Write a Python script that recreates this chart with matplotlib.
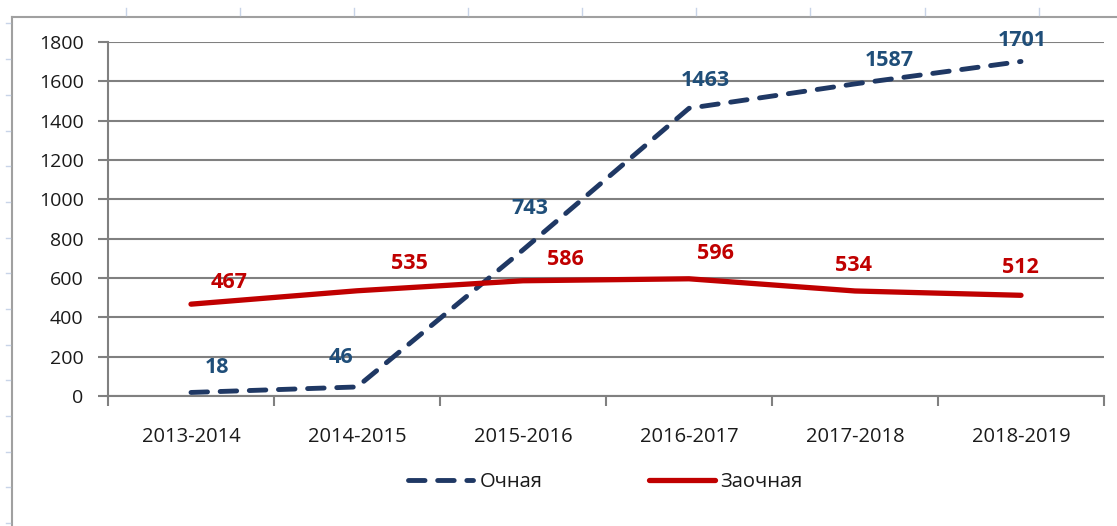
import matplotlib.pyplot as plt
from matplotlib.lines import Line2D

# data
years = ['2013-2014', '2014-2015', '2015-2016', '2016-2017', '2017-2018', '2018-2019']
ochnaya = [18, 46, 743, 1463, 1587, 1701]
zaochnaya = [467, 535, 586, 596, 534, 512]

# label offsets in pixels (dx, dy) as placed in the original
off_blue = [(26, 25), (-16, 29), (7, 41), (16, 28), (34, 23), (1, 21)]
off_red = [(38, 22), (52, 27), (42, 21), (26, 25), (-2, 25), (-1, 28)]

blue = '#1F3864'
red = '#C00000'
plt.rcParams['font.family'] = ['Open Sans', 'DejaVu Sans']

fig = plt.figure(figsize=(11.17, 5.26), dpi=100)
W, H = 1117, 526
ax = fig.add_axes([108 / W, 1 - 396 / H, (1104 - 108) / W, (396 - 42) / H])

x = range(len(years))
ax.plot(x, ochnaya, color=blue, lw=3.5, dashes=(3.4, 2.6),
        dash_capstyle='round', solid_capstyle='round', label='Очная', zorder=3)
ax.plot(x, zaochnaya, color=red, lw=3.8, solid_capstyle='round',
        label='Заочная', zorder=3)

for i, v in enumerate(ochnaya):
    ax.annotate(str(v), (i, v), xytext=off_blue[i], textcoords='offset pixels',
                ha='center', va='center', fontsize=15.5, fontweight='bold',
                color='#1F4E79')
for i, v in enumerate(zaochnaya):
    ax.annotate(str(v), (i, v), xytext=off_red[i], textcoords='offset pixels',
                ha='center', va='center', fontsize=15.5, fontweight='bold',
                color=red)

ax.set_xlim(-0.5, 5.5)
ax.set_ylim(0, 1800)
ax.set_yticks(range(0, 1801, 200))
ax.set_xticks(x)
ax.set_xticklabels(years)
ax.set_xticks([i - 0.5 for i in range(7)], minor=True)
ax.grid(axis='y', color='#808080', lw=1.5)
ax.set_axisbelow(True)
for s in ['top', 'right']:
    ax.spines[s].set_visible(False)
for s in ['left', 'bottom']:
    ax.spines[s].set_color('#808080')
    ax.spines[s].set_linewidth(1.5)
ax.tick_params(axis='y', length=7, color='#808080', width=1.5, labelsize=14, pad=10.5,
               labelcolor='#1a1a1a')
ax.tick_params(axis='x', which='major', length=0, labelsize=14.5, pad=22,
               labelcolor='#1a1a1a')
ax.tick_params(axis='x', which='minor', length=7, color='#808080', width=1.5)

handles = [Line2D([], [], color=blue, lw=3.5, dashes=(3.4, 2.6), dash_capstyle='round'),
           Line2D([], [], color=red, lw=3.8, solid_capstyle='round')]
fig.legend(handles, ['Очная', 'Заочная'], loc='center', bbox_to_anchor=(0.542, 1 - 482 / H),
           ncol=2, frameon=False, fontsize=14.5, handlelength=3.25, handletextpad=0.3,
           columnspacing=5.3, labelcolor='#1a1a1a')

# chart frame and the spreadsheet grid marks around it
fig.add_artist(Line2D([12 / W, 12 / W], [0, 1 - 17 / H], color='#a0a0a0', lw=1.5))
fig.add_artist(Line2D([12 / W, 1], [1 - 17 / H, 1 - 17 / H], color='#a0a0a0', lw=1.5))
for px in [126, 240, 354, 468, 582, 696, 810, 925, 1039]:
    fig.add_artist(Line2D([px / W, px / W], [1 - 8 / H, 1 - 15 / H], color='#c8d4e8', lw=1))
for py in [23, 59, 95, 131, 166, 202, 238, 273, 309, 345, 380, 416, 452, 487, 523]:
    fig.add_artist(Line2D([6 / W, 10 / W], [1 - py / H, 1 - py / H], color='#c8d4e8', lw=1))

fig.savefig('out.png', dpi=100)
